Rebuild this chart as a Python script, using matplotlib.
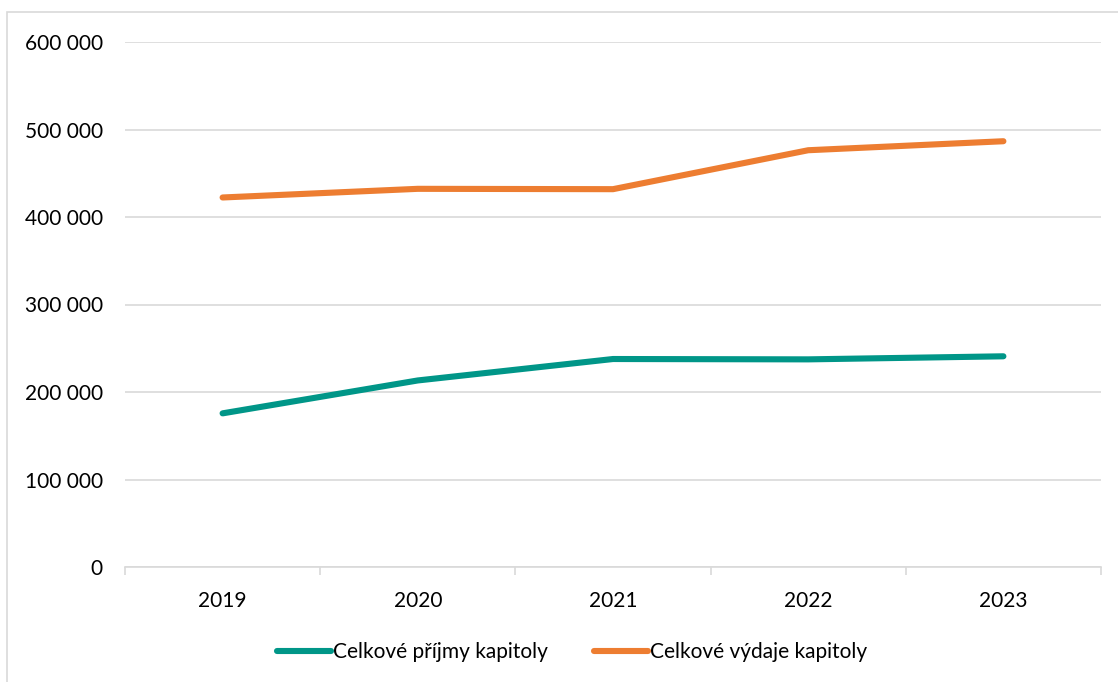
import matplotlib
matplotlib.use("Agg")
import matplotlib.pyplot as plt
from matplotlib.lines import Line2D
from matplotlib.patches import Rectangle
from matplotlib.ticker import FuncFormatter, FixedLocator, NullFormatter

plt.rcParams['font.family'] = ['Lato', 'DejaVu Sans']

years = ["2019", "2020", "2021", "2022", "2023"]
prijmy = [175600, 213200, 237700, 237300, 240800]
vydaje = [422300, 432200, 431800, 476300, 486600]
series_names = ["Celkové příjmy kapitoly", "Celkové výdaje kapitoly"]
y_ticks = [0, 100000, 200000, 300000, 400000, 500000, 600000]

TEAL = "#009688"
ORANGE = "#ED7D31"
GRID = "#D9D9D9"
FS = 15.0

W, H, DPI = 1118, 682, 100
fig = plt.figure(figsize=(W / DPI, H / DPI), dpi=DPI)

# chart-area border (top and left edges visible inside the image)
fig.patches.append(Rectangle((7 / W, -0.1), 1.2, (H - 12) / H + 0.1,
                             transform=fig.transFigure, fill=False,
                             edgecolor="#D9D9D9", linewidth=1.2))

ax = fig.add_axes([125 / W, 1 - 567 / H, (1101 - 125) / W, (567 - 42) / H])

x = list(range(len(years)))
ax.plot(x, prijmy, color=TEAL, linewidth=4.4, solid_capstyle="round",
        solid_joinstyle="round", zorder=3)
ax.plot(x, vydaje, color=ORANGE, linewidth=4.4, solid_capstyle="round",
        solid_joinstyle="round", zorder=3)

ax.set_xlim(-0.5, len(years) - 0.5)
ax.set_ylim(0, 600000)
ax.set_yticks(y_ticks)
ax.yaxis.set_major_formatter(FuncFormatter(lambda v, p: f"{int(v):,}".replace(",", " ")))
ax.grid(axis="y", color=GRID, linewidth=1.2, zorder=0)
ax.tick_params(axis="y", length=0, pad=16, labelsize=FS, labelcolor="#000000")

# category labels centred, tick marks at the category boundaries
ax.set_xticks(x)
ax.set_xticklabels(years)
ax.tick_params(axis="x", which="major", length=0, pad=17, labelsize=FS)
ax.xaxis.set_minor_locator(FixedLocator([i - 0.5 for i in range(len(years) + 1)]))
ax.xaxis.set_minor_formatter(NullFormatter())
ax.tick_params(axis="x", which="minor", length=6, width=1.2, color=GRID)

for side in ("top", "right", "left"):
    ax.spines[side].set_visible(False)
ax.spines["bottom"].set_color(GRID)
ax.spines["bottom"].set_linewidth(1.2)

handles = [Line2D([], [], color=TEAL, linewidth=4.4, solid_capstyle="round"),
           Line2D([], [], color=ORANGE, linewidth=4.4, solid_capstyle="round")]
fig.legend(handles, series_names, loc="center", bbox_to_anchor=(572 / W, 1 - 652 / H),
           ncol=2, frameon=False, fontsize=FS, handlelength=2.6,
           handletextpad=0.1, columnspacing=2.2)

fig.savefig("out.png", dpi=DPI, facecolor="white")
